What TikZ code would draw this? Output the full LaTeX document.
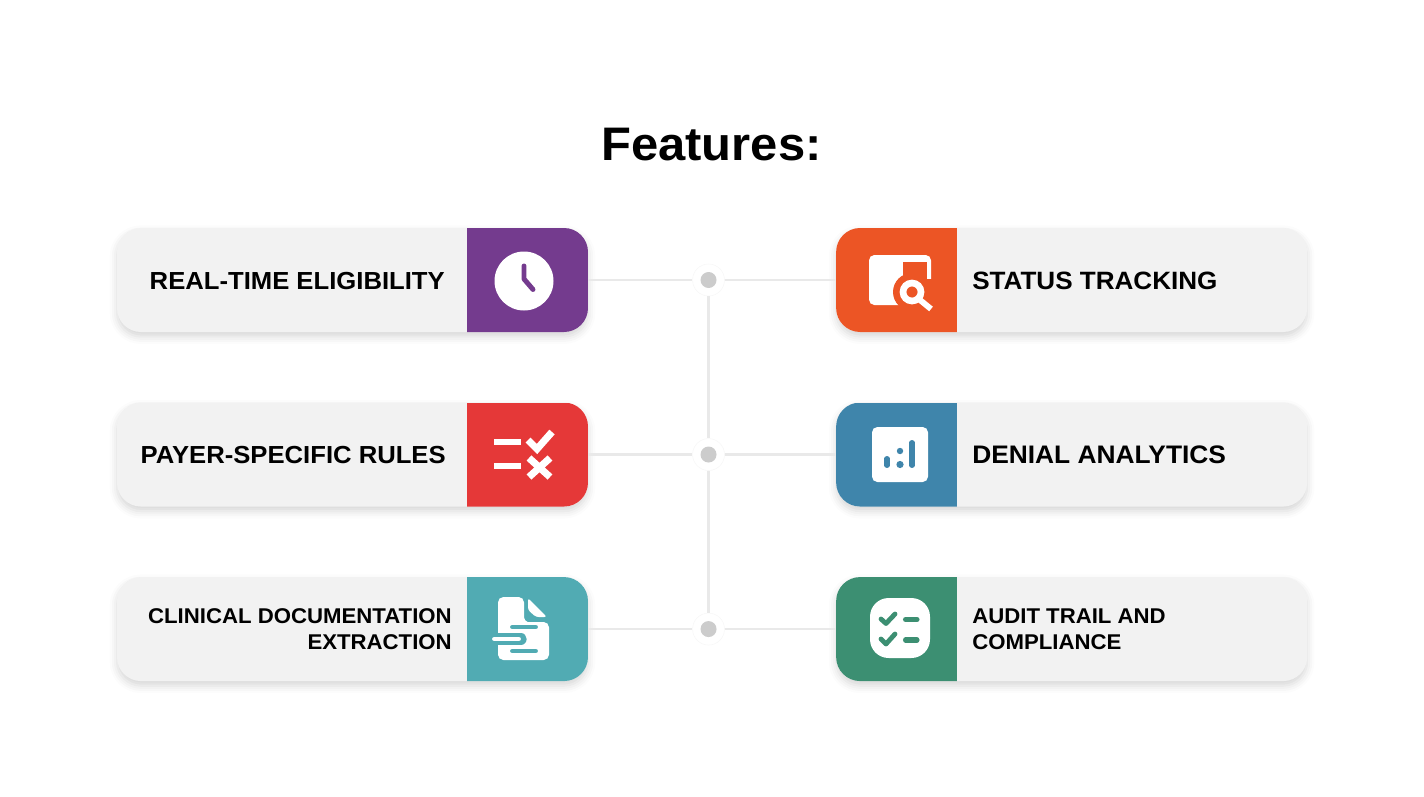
\documentclass[tikz,border=0pt]{standalone}
\usepackage{fontspec}
\usetikzlibrary{positioning,calc,shadows.blur}
\setmainfont{Liberation Sans}
\newfontfamily\titlefont[FakeStretch=1.04]{Liberation Sans Bold}
\definecolor{cardgray}{HTML}{F2F2F2}
\definecolor{linegray}{HTML}{E9E9E9}
\definecolor{dotgray}{HTML}{CCCCCC}
\definecolor{eligpurple}{HTML}{743B8E}
\definecolor{rulesred}{HTML}{E53838}
\definecolor{clinteal}{HTML}{51ABB3}
\definecolor{statusorange}{HTML}{EC5525}
\definecolor{denialblue}{HTML}{3F85AB}
\definecolor{auditgreen}{HTML}{3C8F72}
\tikzset{
    cardbase/.style={rectangle,inner sep=0pt,minimum width=353.25pt,minimum height=78pt,rounded corners=18pt,fill=cardgray,
        blur shadow={shadow xshift=0pt,shadow yshift=-3.5pt,shadow blur radius=5.5pt,shadow opacity=16}},
    cardl/.style={cardbase,path picture={\fill[#1,sharp corners] (path picture bounding box.north east) rectangle ++(-121,120);}},
    cardr/.style={cardbase,path picture={\fill[#1,sharp corners] (path picture bounding box.north west) rectangle ++(121,120);}},
    hub/.style={circle,inner sep=0pt,minimum size=24pt,fill=white,draw=black!3,line width=.4pt,
        path picture={\fill[dotgray] (path picture bounding box.center) circle (8);}},
    joinline/.style={linegray,line width=1.8pt},
    cardtext/.style={font=\titlefont\fontsize{#1}{19.5}\selectfont,inner sep=0pt,text=black},
}
\begin{document}
\begin{tikzpicture}[x=0.75pt,y=-0.75pt]
    \useasboundingbox (0,0) rectangle (1424,796);

    \node[font=\titlefont\fontsize{35.3}{40}\selectfont,inner sep=0pt] (title) at (711.5,145) {Features:};

    \node[cardl=eligpurple] (elig) at (352.5,280) {};
    \node[cardl=rulesred,below=52.5pt of elig] (rules) {};
    \node[cardl=clinteal,below=52.5pt of rules] (clin) {};
    \node[cardr=statusorange,right=185.7pt of elig] (status) {};
    \node[cardr=denialblue,below=52.5pt of status] (denial) {};
    \node[cardr=auditgreen,below=52.5pt of denial] (audit) {};

    \node[hub,right=78pt of elig] (hubtop) {};
    \node[hub,right=78pt of rules] (hubmid) {};
    \node[hub,right=78pt of clin] (hubbot) {};

    \draw[joinline] (elig.east) -- (hubtop);
    \draw[joinline] (rules.east) -- (hubmid);
    \draw[joinline] (clin.east) -- (hubbot);
    \draw[joinline] (hubtop) -- (status.west);
    \draw[joinline] (hubmid) -- (denial.west);
    \draw[joinline] (hubbot) -- (audit.west);
    \draw[joinline] (hubtop) -- (hubmid);
    \draw[joinline] (hubmid) -- (hubbot);

    \node[cardtext=18.5,anchor=east] (elig text) at (445,281) {REAL-TIME ELIGIBILITY};
    \node[cardtext=18.5,anchor=east] (rules text) at (446,455) {PAYER-SPECIFIC RULES};
    \node[cardtext=16,anchor=east,align=right] (clin text) at (452,629) {CLINICAL DOCUMENTATION\\EXTRACTION};
    \node[cardtext=18.8,anchor=west] (status text) at (972,281) {STATUS TRACKING};
    \node[cardtext=19,anchor=west] (denial text) at (972,455) {DENIAL ANALYTICS};
    \node[cardtext=16,anchor=west,align=left] (audit text) at (972,629) {AUDIT TRAIL AND\\COMPLIANCE};

    % clock
    \fill[white] (524,281) circle (29.5);
    \draw[eligpurple,line width=3.7pt,line cap=round,line join=round] (524,266) -- (524,279) -- (533,289.5);

    % rules
    \fill[white] (494,439) rectangle (521,445);
    \fill[white] (494,463) rectangle (521,469);
    \draw[white,line width=5.3pt] (528,440) -- (537,449) -- (552,432);
    \draw[white,line width=5.3pt] (529,458) -- (550,477);
    \draw[white,line width=5.3pt] (550,458) -- (529,477);

    % document
    \fill[white,rounded corners=4] (498,597) -- (524,597) -- (524,612) .. controls (524,619) and (526,622) .. (533,622) -- (549,622) -- (549,660) -- (498,660) -- cycle;
    \fill[white,rounded corners=2] (528,598) -- (547,617) -- (536,617) -- (528,610) -- cycle;
    \draw[clinteal,line width=3.7pt,line cap=round] (512.5,627) -- (535.5,627);
    \draw[clinteal,line width=3.7pt,line cap=round] (512.5,651) -- (535.5,651);
    \draw[clinteal,line width=8.5pt,line cap=round] (498,639) -- (521,639);
    \draw[white,line width=3.7pt,line cap=round] (494.5,639) -- (518.5,639);

    % search
    \fill[white,rounded corners=4] (869,255) rectangle (931,305);
    \fill[statusorange] (903,262) rectangle (927,285);
    \fill[statusorange] (932,279) rectangle (922,306);
    \fill[statusorange] (912,292) circle (19);
    \draw[white,line width=5pt] (912,292) circle (9);
    \draw[white,line width=4.4pt] (920,300) -- (931,309);

    % chart
    \fill[white,rounded corners=4] (872,427) rectangle (928,482);
    \draw[denialblue,line width=4pt,line cap=round] (887,458.7) -- (887,465.3);
    \draw[denialblue,line width=4pt,line cap=round] (912,442.7) -- (912,465.3);
    \fill[denialblue] (900,451) circle (3.2);
    \fill[denialblue] (900,464.5) circle (3.6);

    % checklist
    \fill[white,rounded corners=14] (870,598) rectangle (930,658);
    \draw[auditgreen,line width=3.6pt,line cap=round,line join=round] (881,619) -- (886,623.5) -- (895,614);
    \draw[auditgreen,line width=3.6pt,line cap=round,line join=round] (881,639) -- (886,644) -- (895,634);
    \draw[auditgreen,line width=3.8pt,line cap=round] (905.5,619.5) -- (917,619.5);
    \draw[auditgreen,line width=3.8pt,line cap=round] (905.5,640) -- (917,640);
\end{tikzpicture}
\end{document}
